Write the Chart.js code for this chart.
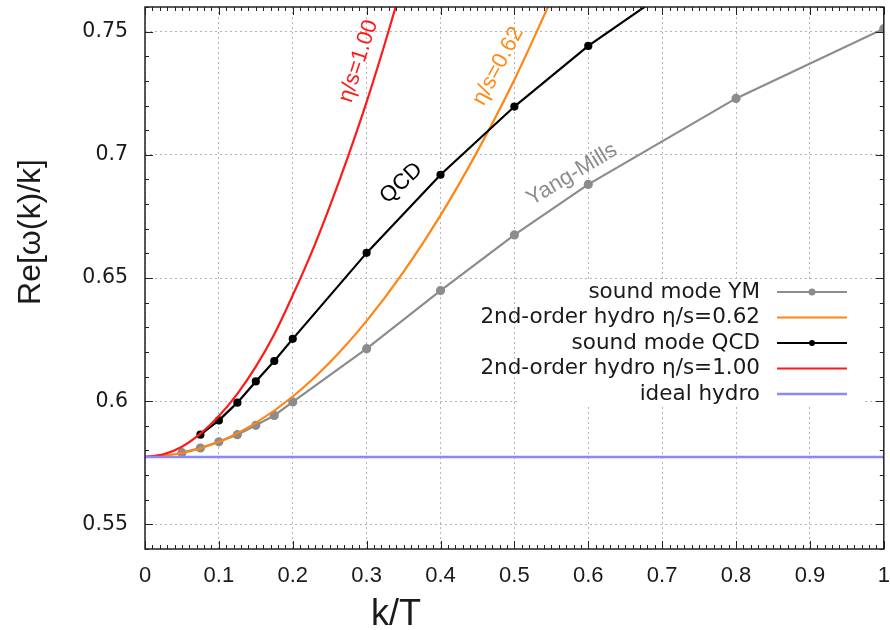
<!DOCTYPE html>
<html>
<head>
<meta charset="utf-8">
<script src="https://cdn.jsdelivr.net/npm/chart.js@4.4.1/dist/chart.umd.min.js"></script>
<style>
  html, body { margin: 0; padding: 0; background: #fff; }
</style>
</head>
<body>
<canvas id="chart" width="890" height="630"></canvas>
<script>
// x ticks and y ticks
const xTicks = [0, 0.1, 0.2, 0.3, 0.4, 0.5, 0.6, 0.7, 0.8, 0.9, 1];
const xTickLabels = ['0', '0.1', '0.2', '0.3', '0.4', '0.5', '0.6', '0.7', '0.8', '0.9', '1'];
const yTicks = [0.55, 0.6, 0.65, 0.7, 0.75];
const yTickLabels = ['0.55', '0.6', '0.65', '0.7', '0.75'];

// sound mode, Yang-Mills
const ymK = [0.05, 0.075, 0.1, 0.125, 0.15, 0.175, 0.2, 0.3, 0.4, 0.5, 0.6, 0.8, 1.0];
const ymV = [0.5791, 0.5810, 0.5835, 0.5864, 0.5902, 0.5942, 0.5997, 0.6213, 0.6449, 0.6675, 0.6880, 0.7229, 0.7512];

// sound mode, QCD
const qcdK = [0.075, 0.1, 0.125, 0.15, 0.175, 0.2, 0.3, 0.4, 0.5, 0.6, 0.7];
const qcdV = [0.5864, 0.5922, 0.5994, 0.6080, 0.6163, 0.6253, 0.6602, 0.6919, 0.7196, 0.7442, 0.7650];

// 2nd-order hydro, eta/s = 0.62
const hydro062K = [0, 0.05, 0.1, 0.15, 0.2, 0.25, 0.3, 0.35, 0.4, 0.45, 0.5, 0.55];
const hydro062V = [0.5774, 0.5789, 0.5835, 0.5912, 0.6019, 0.6157, 0.6326, 0.6525, 0.6754, 0.7015, 0.7305, 0.7630];

// 2nd-order hydro, eta/s = 1.00
const hydro100K = [0, 0.025, 0.05, 0.075, 0.1, 0.125, 0.15, 0.175, 0.2, 0.225, 0.25, 0.275, 0.3, 0.325, 0.35];
const hydro100V = [0.5774, 0.5784, 0.5815, 0.5868, 0.5940, 0.6030, 0.6140, 0.6272, 0.6430, 0.6600, 0.6790, 0.6995, 0.7215, 0.7455, 0.7710];

// ideal hydro, c_s = 1/sqrt(3)
const idealK = [0, 1];
const idealV = [0.57735, 0.57735];

const pts = (ks, vs) => ks.map((k, i) => ({x: k, y: vs[i]}));

// curve labels, placed in data coordinates
const notes = [
  {text: 'η/s=1.00', k: 0.289, v: 0.738, angle: -72, color: '#ff1a1a'},
  {text: 'η/s=0.62', k: 0.478, v: 0.736, angle: -62, color: '#ff8a14'},
  {text: 'QCD', k: 0.347, v: 0.6885, angle: -43, color: '#000000'},
  {text: 'Yang-Mills', k: 0.578, v: 0.692, angle: -31, color: '#8c8c8c'}
];

const datasets = [
  {label: 'sound mode YM', data: pts(ymK, ymV), borderColor: '#8c8c8c', backgroundColor: '#8c8c8c',
   borderWidth: 2.2, pointRadius: 3.5, tension: 0, order: 4},
  {label: '2nd-order hydro η/s=0.62', data: pts(hydro062K, hydro062V), borderColor: '#ff8514',
   borderWidth: 2.2, pointRadius: 0, cubicInterpolationMode: 'monotone', order: 3},
  {label: 'sound mode QCD', data: pts(qcdK, qcdV), borderColor: '#000000', backgroundColor: '#000000',
   borderWidth: 2.2, pointRadius: 3, tension: 0, order: 2},
  {label: '2nd-order hydro η/s=1.00', data: pts(hydro100K, hydro100V), borderColor: '#ff1a1a',
   borderWidth: 2.2, pointRadius: 0, cubicInterpolationMode: 'monotone', order: 1},
  {label: 'ideal hydro', data: pts(idealK, idealV), borderColor: '#8888ff',
   borderWidth: 2.5, pointRadius: 0, order: 0}
];

const gnuplotLook = {
  id: 'gnuplotLook',
  afterDraw(chart) {
    const {ctx, chartArea: a, scales: {x, y}} = chart;
    ctx.save();

    // inward tick marks on all four sides
    ctx.strokeStyle = '#222';
    ctx.lineWidth = 1;
    ctx.beginPath();
    for (let i = 0; i <= 100; i++) {
      const px = Math.round(x.getPixelForValue(i / 100)) + 0.5;
      const len = i % 10 === 0 ? 8 : 4;
      ctx.moveTo(px, a.bottom); ctx.lineTo(px, a.bottom - len);
      ctx.moveTo(px, a.top); ctx.lineTo(px, a.top + len);
    }
    for (let i = 54; i <= 76; i++) {
      const py = Math.round(y.getPixelForValue(i / 100)) + 0.5;
      const len = i % 5 === 0 ? 8 : 4;
      ctx.moveTo(a.left, py); ctx.lineTo(a.left + len, py);
      ctx.moveTo(a.right, py); ctx.lineTo(a.right - len, py);
    }
    ctx.stroke();
    ctx.lineWidth = 1.5;
    ctx.strokeRect(a.left, a.top, a.width, a.height);

    // curve labels
    ctx.font = "22px 'Liberation Sans', Arial, sans-serif";
    ctx.textAlign = 'center';
    ctx.textBaseline = 'middle';
    notes.forEach(n => {
      ctx.save();
      ctx.translate(x.getPixelForValue(n.k), y.getPixelForValue(n.v));
      ctx.rotate(n.angle * Math.PI / 180);
      ctx.fillStyle = n.color;
      ctx.fillText(n.text, 0, 0);
      ctx.restore();
    });

    // opaque key
    ctx.fillStyle = '#fff';
    ctx.fillRect(517, 280, 345, 126);
    ctx.font = "21.5px 'DejaVu Sans', sans-serif";
    ctx.textAlign = 'right';
    chart.data.datasets.forEach((ds, i) => {
      const ty = 292 + i * 25.5;
      ctx.fillStyle = '#1a1a1a';
      ctx.fillText(ds.label, 760, ty);
      ctx.strokeStyle = ds.borderColor;
      ctx.lineWidth = ds.borderWidth;
      ctx.beginPath();
      ctx.moveTo(777, ty); ctx.lineTo(847, ty);
      ctx.stroke();
      if (ds.pointRadius > 0) {
        ctx.fillStyle = ds.borderColor;
        ctx.beginPath();
        ctx.arc(812, ty, ds.pointRadius, 0, Math.PI * 2);
        ctx.fill();
      }
    });

    // axis titles
    ctx.fillStyle = '#1a1a1a';
    ctx.textAlign = 'center';
    ctx.textBaseline = 'alphabetic';
    ctx.font = "36px 'Liberation Sans Narrow', 'Liberation Sans', sans-serif";
    ctx.fillText('k/T', 396, 625);
    ctx.save();
    ctx.translate(31, 232);
    ctx.rotate(-Math.PI / 2);
    ctx.textBaseline = 'middle';
    ctx.font = "32px 'Liberation Sans', Arial, sans-serif";
    ctx.fillText('Re[ω(k)/k]', 0, 0);
    ctx.restore();

    ctx.restore();
  }
};

new Chart(document.getElementById('chart'), {
  type: 'line',
  data: {datasets},
  options: {
    responsive: false,
    animation: false,
    layout: {padding: {left: 0, right: 4, top: 7, bottom: 0}},
    plugins: {legend: {display: false}, tooltip: {enabled: false}},
    scales: {
      x: {
        type: 'linear', min: 0, max: 1,
        afterBuildTicks: s => { s.ticks = xTicks.map(v => ({value: v})); },
        afterFit: s => { s.height = 81; s.paddingLeft = 0; s.paddingRight = 0; },
        ticks: {
          autoSkip: false, maxRotation: 0, padding: 14, color: '#1a1a1a',
          font: {family: "'Liberation Sans Narrow', 'Liberation Sans', sans-serif", size: 22},
          callback: (v, i) => xTickLabels[i]
        },
        grid: {color: '#b4b4b4', lineWidth: 1, drawTicks: false},
        border: {display: false, dash: [2, 3]}
      },
      y: {
        type: 'linear', min: 0.54, max: 0.76,
        afterBuildTicks: s => { s.ticks = yTicks.map(v => ({value: v})); },
        afterFit: s => { s.width = 145; s.paddingTop = 0; s.paddingBottom = 0; },
        ticks: {
          autoSkip: false, padding: 17, color: '#1a1a1a',
          font: {family: "'DejaVu Sans', sans-serif", size: 20.5},
          callback: (v, i) => yTickLabels[i]
        },
        grid: {color: '#b4b4b4', lineWidth: 1, drawTicks: false},
        border: {display: false, dash: [2, 3]}
      }
    }
  },
  plugins: [gnuplotLook]
});
</script>
</body>
</html>
